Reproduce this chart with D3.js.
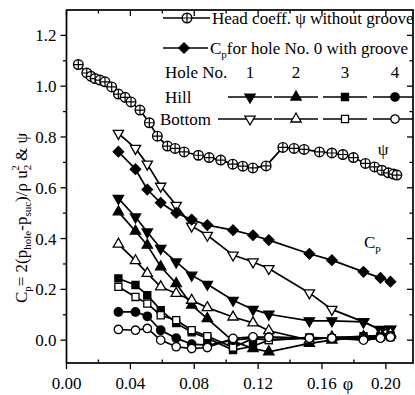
<!DOCTYPE html>
<html>
<head>
<meta charset="utf-8">
<script src="https://cdn.jsdelivr.net/npm/d3@7"></script>
<style>
  body { margin: 0; background: #fff; }
  svg text { font-family: "Liberation Serif", "Times New Roman", serif; fill: #000; }
</style>
</head>
<body>
<svg id="svgchart"></svg>
<script>
'use strict'

// flow coefficient of the hole measurements (shared by all the Cp series)
const phi = [0.0325, 0.0432, 0.0506, 0.0590, 0.0687, 0.0784, 0.0882, 0.1043, 0.1168, 0.1267, 0.1521, 0.1662, 0.1860, 0.1966, 0.2029]

// head coefficient without groove
const psiPhi = [0.0074, 0.0127, 0.0154, 0.0179, 0.0210, 0.0241, 0.0283, 0.0325, 0.0367, 0.0404, 0.0460, 0.0519, 0.0569, 0.0632,
  0.0680, 0.0737, 0.0826, 0.0893, 0.0966, 0.1041, 0.1104, 0.1167, 0.1250, 0.1355, 0.1425, 0.1488, 0.1584, 0.1662, 0.1731,
  0.1797, 0.1872, 0.1929, 0.1975, 0.2016, 0.2048, 0.2069]
const psi = [1.085, 1.052, 1.039, 1.030, 1.024, 1.017, 0.997, 0.969, 0.956, 0.938, 0.906, 0.856, 0.803, 0.764,
  0.755, 0.741, 0.728, 0.719, 0.709, 0.693, 0.685, 0.678, 0.686, 0.759, 0.755, 0.751, 0.741, 0.737, 0.731,
  0.719, 0.696, 0.682, 0.669, 0.659, 0.654, 0.650]

// Cp for hole No. 0 with groove
const cpHole0 = [0.742, 0.673, 0.593, 0.541, 0.501, 0.475, 0.453, 0.433, 0.413, 0.394, 0.340, 0.315, 0.269, 0.245, 0.230]

// Cp on the hill, holes 1..4
const hill1 = [0.558, 0.485, 0.426, 0.361, 0.308, 0.256, 0.220, 0.157, 0.121, 0.102, 0.076, 0.076, 0.072, 0.042, 0.042]
const hill2 = [0.505, 0.429, 0.374, 0.289, 0.223, 0.138, 0.085, -0.004, -0.033, -0.046, -0.013, 0.000, 0.013, 0.016, 0.020]
const hill3 = [0.243, 0.217, 0.177, 0.118, 0.067, 0.031, 0.008, -0.039, -0.024, 0.000, 0.008, 0.008, 0.016, 0.016, 0.020]
const hill4 = [0.111, 0.111, 0.094, 0.039, 0.008, -0.016, -0.020, 0.000, 0.008, 0.012, 0.008, 0.008, 0.004, 0.008, 0.012]

// Cp on the bottom, holes 1..4
const bottom1 = [0.814, 0.755, 0.693, 0.606, 0.531, 0.449, 0.413, 0.335, 0.308, 0.282, 0.186, 0.121, 0.072, 0.039, 0.043]
const bottom2 = [0.378, 0.313, 0.263, 0.210, 0.184, 0.157, 0.128, 0.091, 0.068, 0.037, 0.000, 0.012, 0.013, 0.020, 0.028]
const bottom3 = [0.210, 0.170, 0.144, 0.098, 0.079, 0.039, 0.016, -0.029, 0.007, 0.000, 0.011, 0.007, 0.008, 0.012, 0.012]
const bottom4 = [0.042, 0.039, 0.046, 0.000, -0.026, -0.033, -0.029, 0.007, 0.013, 0.011, 0.008, 0.008, 0.000, 0.008, 0.012]

// axis ticks
const xTicks = [0.00, 0.04, 0.08, 0.12, 0.16, 0.20]
const xMinor = [0.02, 0.06, 0.10, 0.14, 0.18]
const yTicks = [0.0, 0.2, 0.4, 0.6, 0.8, 1.0, 1.2]
const yMinor = [0.1, 0.3, 0.5, 0.7, 0.9, 1.1]
const holeNumbers = ["1", "2", "3", "4"]

const width = 415
const height = 395
const margins = {top: 10, right: 2, bottom: 32, left: 66.5}
const fontSize = 17

const x = d3.scaleLinear().domain([0, 0.217]).range([margins.left, width - margins.right])
const y = d3.scaleLinear().domain([-0.09, 1.3]).range([height - margins.bottom, margins.top])

const svg = d3.select('#svgchart')
  .attr("width", width)
  .attr("height", height)

// marker shapes
const sym = (type, size) => d3.symbol().type(type).size(size)()
const markers = {
  down: {path: sym(d3.symbolTriangle, 46), rot: 180},
  up: {path: sym(d3.symbolTriangle, 46), rot: 0},
  square: {path: sym(d3.symbolSquare, 50), rot: 0},
  circle: {path: sym(d3.symbolCircle, 56), rot: 0},
  diamond: {path: sym(d3.symbolSquare, 54), rot: 45}
}

const series = [
  {values: bottom1, marker: "down", filled: false},
  {values: cpHole0, marker: "diamond", filled: true},
  {values: hill1, marker: "down", filled: true},
  {values: hill2, marker: "up", filled: true},
  {values: bottom2, marker: "up", filled: false},
  {values: hill3, marker: "square", filled: true},
  {values: bottom3, marker: "square", filled: false},
  {values: hill4, marker: "circle", filled: true},
  {values: bottom4, marker: "circle", filled: false}
]

const line = d3.line().x(d => x(d[0])).y(d => y(d[1]))

function drawMarker(g, px, py, marker, filled) {
  g.append("path")
    .attr("d", markers[marker].path)
    .attr("transform", "translate(" + px + "," + py + ") rotate(" + markers[marker].rot + ")")
    .attr("fill", filled ? "#000" : "#fff")
    .attr("stroke", "#000")
    .attr("stroke-width", 1.3)
}

function drawPsiMarker(g, px, py) {
  const r = 4.8
  g.append("circle").attr("cx", px).attr("cy", py).attr("r", r)
    .attr("fill", "#fff").attr("stroke", "#000").attr("stroke-width", 1.4)
  g.append("path")
    .attr("d", "M" + (px - r) + "," + py + "H" + (px + r) + "M" + px + "," + (py - r) + "V" + (py + r))
    .attr("stroke", "#000").attr("stroke-width", 1.2)
}

// Cp series: lines first, markers on top
const plot = svg.append("g")
series.forEach(s => {
  const pts = phi.map((p, i) => [p, s.values[i]])
  plot.append("path").datum(pts)
    .attr("d", line)
    .attr("fill", "none")
    .attr("stroke", "#000")
    .attr("stroke-width", 1.7)
})
series.forEach(s => {
  phi.forEach((p, i) => drawMarker(plot, x(p), y(s.values[i]), s.marker, s.filled))
})

// head coefficient
const psiPts = psiPhi.map((p, i) => [p, psi[i]])
plot.append("path").datum(psiPts)
  .attr("d", line)
  .attr("fill", "none")
  .attr("stroke", "#000")
  .attr("stroke-width", 1.7)
psiPts.forEach(d => drawPsiMarker(plot, x(d[0]), y(d[1])))

// frame with ticks on all four sides
const axisStroke = 1.7
const x0 = x.range()[0], x1 = x.range()[1]
const y0 = y.range()[0], y1 = y.range()[1]
svg.append("rect")
  .attr("x", x0).attr("y", y1)
  .attr("width", x1 - x0).attr("height", y0 - y1)
  .attr("fill", "none").attr("stroke", "#000").attr("stroke-width", axisStroke)

const ticks = svg.append("g").attr("stroke", "#000").attr("stroke-width", 1.3)
yTicks.forEach(v => {
  ticks.append("line").attr("x1", x0 - 6).attr("x2", x0).attr("y1", y(v)).attr("y2", y(v))
  ticks.append("line").attr("x1", x1 - 6).attr("x2", x1).attr("y1", y(v)).attr("y2", y(v))
})
yMinor.forEach(v => {
  ticks.append("line").attr("x1", x0 - 3.5).attr("x2", x0).attr("y1", y(v)).attr("y2", y(v))
  ticks.append("line").attr("x1", x1 - 3.5).attr("x2", x1).attr("y1", y(v)).attr("y2", y(v))
})
xTicks.forEach(v => {
  ticks.append("line").attr("x1", x(v)).attr("x2", x(v)).attr("y1", y0).attr("y2", y0 + 6)
  ticks.append("line").attr("x1", x(v)).attr("x2", x(v)).attr("y1", y1).attr("y2", y1 + 6)
})
xMinor.forEach(v => {
  ticks.append("line").attr("x1", x(v)).attr("x2", x(v)).attr("y1", y0).attr("y2", y0 - 3.5)
  ticks.append("line").attr("x1", x(v)).attr("x2", x(v)).attr("y1", y1).attr("y2", y1 + 3.5)
})

// tick labels
svg.append("g").selectAll("text")
  .data(yTicks).enter().append("text")
  .attr("x", x0 - 10)
  .attr("y", d => y(d))
  .attr("dy", "0.35em")
  .attr("text-anchor", "end")
  .attr("font-size", fontSize)
  .text(d => d.toFixed(1))

svg.append("g").selectAll("text")
  .data(xTicks).enter().append("text")
  .attr("x", d => x(d))
  .attr("y", y0 + 26)
  .attr("text-anchor", "middle")
  .attr("font-size", fontSize)
  .text(d => d.toFixed(2))

// x axis label
svg.append("text")
  .attr("x", 348).attr("y", 390)
  .attr("text-anchor", "middle")
  .attr("font-size", 18)
  .text("φ")

// y axis label
const yLabel = svg.append("text")
  .attr("transform", "translate(27,218) rotate(-90)")
  .attr("text-anchor", "middle")
  .attr("font-size", fontSize)
yLabel.append("tspan").text("C")
yLabel.append("tspan").attr("dy", 4).attr("font-size", 11).text("p")
yLabel.append("tspan").attr("dy", -4).text("= 2(p")
yLabel.append("tspan").attr("dy", 4).attr("font-size", 11).text("hole")
yLabel.append("tspan").attr("dy", -4).text("-p")
yLabel.append("tspan").attr("dy", 4).attr("font-size", 11).text("suc")
yLabel.append("tspan").attr("dy", -4).text(")/ρ u")
yLabel.append("tspan").attr("dy", 4).attr("font-size", 11).text("2")
yLabel.append("tspan").attr("dx", -6).attr("dy", -12).attr("font-size", 11).text("2")
yLabel.append("tspan").attr("dy", 8).text(" & ψ")

// curve labels
svg.append("text").attr("x", 383).attr("y", 155).attr("text-anchor", "middle").attr("font-size", fontSize).text("ψ")
const cpLabel = svg.append("text").attr("x", 364).attr("y", 248).attr("font-size", fontSize)
cpLabel.append("tspan").text("C")
cpLabel.append("tspan").attr("dy", 4).attr("font-size", 11).text("p")

// legend
const legend = svg.append("g")
legend.append("line").attr("x1", 163).attr("x2", 210).attr("y1", 18).attr("y2", 18)
  .attr("stroke", "#000").attr("stroke-width", 1.6)
drawPsiMarker(legend, 187, 18)
legend.append("text").attr("x", 212).attr("y", 18).attr("dy", "0.35em").attr("font-size", fontSize)
  .text("Head coeff. ψ without groove")

legend.append("line").attr("x1", 163).attr("x2", 208).attr("y1", 48).attr("y2", 48)
  .attr("stroke", "#000").attr("stroke-width", 1.6)
drawMarker(legend, 184, 48, "diamond", true)
const cpLegend = legend.append("text").attr("x", 210).attr("y", 48).attr("dy", "0.35em").attr("font-size", fontSize)
cpLegend.append("tspan").text("C")
cpLegend.append("tspan").attr("dy", 4).attr("font-size", 11).text("p")
cpLegend.append("tspan").attr("dy", -4).text("for hole No. 0 with groove")

const legendX = [250, 296, 345, 395]
legend.append("text").attr("x", 165).attr("y", 72).attr("dy", "0.35em").attr("font-size", fontSize).text("Hole No.")
legend.selectAll(".holeNo").data(holeNumbers).enter().append("text")
  .attr("class", "holeNo")
  .attr("x", (d, i) => legendX[i]).attr("y", 72).attr("dy", "0.35em")
  .attr("text-anchor", "middle").attr("font-size", fontSize)
  .text(d => d)

const legendRows = [
  {label: "Hill", lx: 165, y: 97, start: 228, items: [["down", true], ["up", true], ["square", true], ["circle", true]]},
  {label: "Bottom", lx: 160, y: 119, start: 218, items: [["down", false], ["up", false], ["square", false], ["circle", false]]}
]
legendRows.forEach(row => {
  legend.append("text").attr("x", row.lx).attr("y", row.y).attr("dy", "0.35em").attr("font-size", fontSize).text(row.label)
  row.items.forEach((it, i) => {
    const a = i == 0 ? row.start : legendX[i] - 22
    const b = i == 3 ? x1 : legendX[i] + 22
    legend.append("line").attr("x1", a).attr("x2", b).attr("y1", row.y).attr("y2", row.y)
      .attr("stroke", "#000").attr("stroke-width", 1.6)
    drawMarker(legend, legendX[i], row.y, it[0], it[1])
  })
})
</script>
</body>
</html>
